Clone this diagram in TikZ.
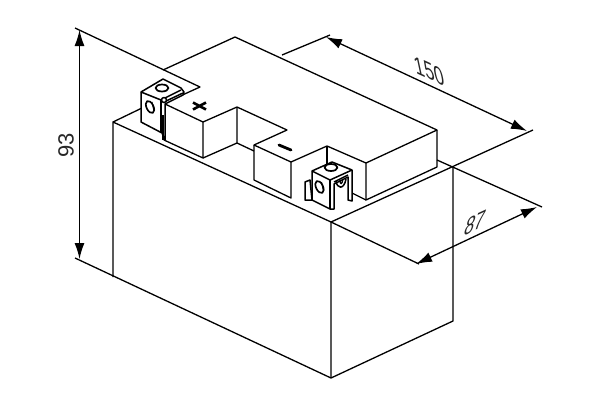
\documentclass[tikz,border=0pt]{standalone}
\usepackage{fontspec}
\setmainfont{Liberation Sans}
\usetikzlibrary{arrows.meta}

\tikzset{
	dimline/.style={{Latex[length=16pt,width=10pt]}-{Latex[length=16pt,width=10pt]}, line width=1.3pt},
	dimtext/.style={font=\fontsize{22}{22}\selectfont, text=black!85, inner sep=0pt},
	termface/.style={fill=white, line width=1.5pt},
	termline/.style={line width=1.5pt},
}

\begin{document}
\begin{tikzpicture}[x=1pt,y=-1pt,line width=1.3pt,line join=round]
			\useasboundingbox (0,0) rectangle (600,400);

			\coordinate (heightTop) at (79.5,30);
			\coordinate (heightBot) at (79.5,259);
			\coordinate (lengthA) at (326,37);
			\coordinate (lengthB) at (527,131);
			\coordinate (widthA) at (416,264);
			\coordinate (widthB) at (537,207);

			\draw (75,28) -- (200,87) -- (178,97);
			\draw (75,258) -- (331,378) -- (453,321) -- (453,167);
			\draw (113,277) -- (113,122) -- (331,222) -- (331,378);
			\draw (113,122) -- (142,108);
			\draw (331,222) -- (533,130);
			\draw (331,222) -- (419,264);
			\draw (437,160) -- (542,207);
			\draw (282,55) -- (330,35);

			\draw (163,70) -- (235,37) -- (437,130) -- (366,163) -- (327,146) -- (291,162) -- (254,145) -- (287,130) -- (237,107) -- (203,122) -- (165,104);
			\draw (437,130) -- (437,167) -- (366,200) -- (366,163);
			\draw (165,104) -- (164,140) -- (203,158) -- (203,122);
			\draw (203,158) -- (237,143) -- (237,107);
			\draw (237,143) -- (254,151);
			\draw (254,145) -- (254,180) -- (291,198) -- (291,162);
			\draw (327,146) -- (327,170);
			\draw (366,200) -- (352,193);

			\draw [line width=2.6pt] (193,102.5) -- (206,109.5);
			\draw [line width=2.6pt] (193,109.5) -- (206,102.5);
			\draw [line width=2.8pt, line cap=round] (279,145) -- (291,150);

			\draw [termface] (141,92) -- (163,79) -- (181,88) -- (184,92) -- (183,95) -- (165,104) -- (165,140) -- (162,133) -- (141,122) -- cycle;
			\draw [termline] (141,92) -- (161,100) -- (181,90);
			\draw [termline] (161,100) -- (161,133);
			\draw [termline] (163,115) -- (163,140);
			\draw [termline] (164,102) -- (183,93);
			\draw [line width=1.7pt] (162,88) ellipse (6.5 and 3.5);
			\draw [line width=1.7pt, rotate around={25:(150,107)}] (150,107) ellipse (3.5 and 6.5);
			\draw [line width=1pt] (152,102) -- (154,111);
			\draw [termface] (164,100) circle (2.5);

			\draw [termface] (305,182) -- (310,180) -- (312,200) -- (305,200) -- cycle;
			\draw [termface] (312,171) -- (332,162) -- (352,170) -- (352,201) -- (348,200) -- (348,177) -- (334,184) -- (334,209) -- (330,209) -- (312,200) -- cycle;
			\draw [termline] (312,171) -- (330,180) -- (352,170);
			\draw [termline] (330,180) -- (330,209);
			\draw [termline] (334,182) -- (348,175);
			\draw [line width=1.7pt] (331,167.5) ellipse (6.5 and 3.5);
			\draw [line width=1.7pt, rotate around={25:(319.5,187)}] (319.5,187) ellipse (3.5 and 6.5);
			\draw [line width=1pt] (321.5,182) -- (323.5,191);
			\draw [termline] (336,181) .. controls (337,189) and (344,190) .. (346,179);
			\draw (340,180) .. controls (340,185) and (342,185) .. (343,179);

			\draw [dimline] (heightTop) -- (heightBot);
			\draw [dimline] (lengthA) -- (lengthB);
			\draw [dimline] (widthA) -- (widthB);

			\node (heightText) [dimtext, rotate=90] at (66,145) {93};
			\node (lengthText) [dimtext, transform shape, cm={.8,-.37,-.25,1.17,(0,0)}] at (429,71) {150};
			\node (widthText) [dimtext, transform shape, cm={.8,.37,.31,1.16,(0,0)}] at (475,223) {87};
		\end{tikzpicture}
\end{document}
